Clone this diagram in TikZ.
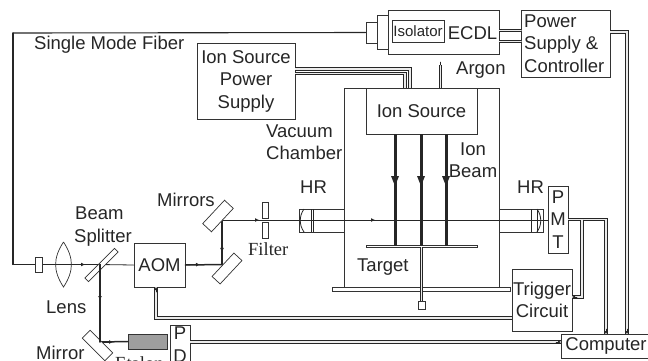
\documentclass[tikz,border=0pt]{standalone}
\RequirePackage{fontspec}
\RequirePackage{tikz}
\RequirePackage{tkz-euclide}
\usetikzlibrary{arrows.meta}
\usetikzlibrary{calc}
\setmainfont{Liberation Sans}
\newfontfamily\serifface{Liberation Serif}

\tikzset{
    txt/.style={inner sep=0pt,text=black!85,font=\fontsize{18.5}{22.5}\selectfont},
    lbl/.style={txt,align=left,anchor=west},
    bbox/.style={txt,draw=black!80,line width=0.8pt,fill=white,align=center,inner sep=0pt},
    optic/.style={draw=black!80,line width=0.7pt,fill=white,inner sep=0pt},
    beam/.style={draw=black!85,line width=0.8pt},
    fiberline/.style={draw=black!85,line width=1.1pt},
    beamthick/.style={draw=black!85,line width=1.5pt},
    ionbeam/.style={draw=black!85,line width=3pt},
    tip/.style={-{Latex[length=4pt,width=4pt]}},
    tipsmall/.style={draw=black!85,line width=0.5pt,-{Latex[length=3pt,width=3.5pt]}},
    wire/.style={preaction={draw=black!85,line width=3.4pt},draw=black!8,line width=1.5pt},
}

\begin{document}
\begin{tikzpicture}[x=1pt,y=-1pt]
                \clip (0,0) rectangle (648,360);

                \tkzDefPoint(13,33){F1}
                \tkzDefPoint(13,264.5){F2}
                \tkzDefPoint(85,264.5){B1}
                \tkzDefPoint(100,264.5){BS}
                \tkzDefPoint(200,264.5){B2}
                \tkzDefPoint(222,264.5){M1}
                \tkzDefPoint(222,245){B3}
                \tkzDefPoint(222,220){M2}
                \tkzDefPoint(259,220){B4}
                \tkzDefPoint(375,220){B5}
                \tkzDefPoint(100,300){B6}
                \tkzDefPoint(100,342){M3}
                \tkzDefPoint(113,342){B7}
                \tkzDefPoint(38.5,264.5){C1}

                \node[bbox,minimum width=89pt,minimum height=67pt] (psu) at (565.5,43.5) {};
                \node[bbox,minimum width=98pt,minimum height=76pt] (isp) at (246,81) {Ion Source\\Power\\Supply};
                \node[optic,minimum width=155pt,minimum height=199pt] (chamber) at (421.5,187.5) {};
                \node[optic,minimum width=178pt,minimum height=4pt] (base) at (421,289) {};
                \node[bbox,minimum width=111pt,minimum height=46pt] (source) at (421.5,111) {Ion Source};
                \node[optic,minimum width=111pt,minimum height=2pt] (target) at (421.5,246) {};
                \node[optic,minimum width=7pt,minimum height=8pt] (pin) at (421.5,305) {};

                \node[optic,minimum width=11pt,minimum height=34pt] (collar) at (382.5,32) {};
                \node[optic,minimum width=11pt,minimum height=21pt] (plug) at (371.5,32.5) {};
                \node[bbox,minimum width=111pt,minimum height=44pt] (ecdl) at (443.5,32) {};
                \node[optic,minimum width=52pt,minimum height=22pt] (isolator) at (418,31) {};
                \node[txt,font=\fontsize{15}{18}\selectfont] (isolatortxt) at (418,31) {Isolator};
                \node[txt] (ecdltxt) at (472.5,33) {ECDL};

                \node[optic,minimum width=45pt,minimum height=23pt] (hrl) at (321.5,220.5) {};
                \node[optic,minimum width=44pt,minimum height=23pt] (hrr) at (521,220.5) {};

                \node[bbox,minimum width=51pt,minimum height=44pt] (aom) at (159.5,265) {AOM};
                \node[bbox,minimum width=20pt,minimum height=67pt] (pmt) at (558,219.5) {P\\M\\T};
                \node[bbox,minimum width=60pt,minimum height=62pt] (trigger) at (542,300) {Trigger\\Circuit};
                \node[bbox,minimum width=90pt,minimum height=24pt] (computer) at (606,346) {Computer};
                \node[bbox,minimum width=20pt,minimum height=38pt,anchor=north] (pd) at (180,325) {P\\D};
                \node[optic,fill=black!38,minimum width=39pt,minimum height=15pt] (etalon) at (147.5,341.5) {};

                \tkzDrawSegment[fiberline](plug.west,F1)
                \tkzDrawSegment[fiberline](F1,F2)
                \tkzDrawSegment[fiberline](F2,C1)
                \tkzDrawSegment[beam](C1,BS)
                \tkzDrawSegment[beam,tip](C1,B1)
                \tkzDrawSegment[beam](BS,aom.west)
                \tkzDrawSegment[beamthick](aom.east,M1)
                \tkzDrawSegment[beam,tip](aom.east,B2)
                \tkzDrawSegment[beamthick](M1,M2)
                \tkzDrawSegment[beam,tip](M1,B3)
                \tkzDrawSegment[beam](M2,pmt.west |- M2)
                \tkzDrawSegment[beam,tip](M2,B4)
                \tkzDrawSegment[beam,tip](M2,B5)
                \tkzDrawSegment[beamthick](M3,etalon.west)
                \tkzDrawSegment[beam,tip](M3,B7)

                \node[optic,minimum width=7pt,minimum height=15pt] (coupler) at (38.5,264.5) {};
                \node[optic,rotate=45,minimum width=42pt,minimum height=5pt] (splitter) at (101.5,265) {};
                \node[optic,rotate=47,minimum width=32pt,minimum height=11pt] (mirrora) at (227,268.5) {};
                \node[optic,rotate=47,minimum width=32pt,minimum height=12pt] (mirrorb) at (218,216) {};
                \node[optic,rotate=-45,minimum width=32pt,minimum height=11pt] (mirrorc) at (97.5,345.5) {};
                \node[optic,minimum width=6pt,minimum height=16pt] (filtera) at (265,210) {};
                \node[optic,minimum width=6pt,minimum height=16pt] (filterb) at (265,230) {};

                \coordinate (lensa) at (63.5,242);
                \coordinate (lensb) at (63.5,287);
                \draw[optic,fill=none] (lensa) .. controls (53,258) and (53,271) .. (lensb)
                    .. controls (74,271) and (74,258) .. (lensa);
                \tkzDrawSegment[beamthick](BS,M3)
                \tkzDrawSegment[beam,tip](BS,B6)

                \draw[ionbeam] (395,134) -- (395,246);
                \draw[ionbeam] (421,134) -- (421,246);
                \draw[ionbeam] (446,134) -- (446,246);
                \foreach \bx in {395,421,446} {
                    \fill[black!85] (\bx-4,176) -- (\bx+4,176) -- (\bx,186) -- cycle;
                }
                \draw[beam] (311,209) -- (311,232);
                \draw[beam] (313,209) -- (313,232);
                \draw[beam] (304,209) .. controls (299,216) and (299,225) .. (304,232);
                \draw[beam] (531,209) -- (531,232);
                \draw[beam] (537,209) -- (537,232);
                \draw[beam] (537,209) .. controls (542,216) and (542,225) .. (537,232);

                \draw[wire] (target.south) -- (pin.north);

                \tkzDefPoint(499,30.5){Ea}
                \tkzDefPoint(521,30.5){Eb}
                \tkzDefPoint(499,41.5){Ec}
                \tkzDefPoint(521,41.5){Ed}
                \tkzDrawSegment[wire](Ea,Eb)
                \tkzDrawSegment[wire](Ec,Ed)

                \tkzDefPoint(295,69){Sa}
                \tkzDefPoint(410,88){Sb}
                \tkzDefPoint(295,73.5){Sc}
                \tkzDefPoint(405,88){Sd}
                \draw[wire] (Sa) -| (Sb);
                \draw[wire] (Sc) -| (Sd);

                \tkzDefPoint(440.5,88){Ga}
                \tkzDefPoint(440.5,65){Gb}
                \tkzDefPoint(440.5,62){Gc}
                \draw[wire] (Ga) -- (Gb);
                \tkzDrawSegment[draw=black!85,line width=0.5pt](Gb,Gc)

                \tkzDefPoint(610,32){Pa}
                \tkzDefPoint(627,334){Pb}
                \tkzDefPoint(627,329){Pc}
                \draw[wire] (Pa) -| (Pb);
                \tkzDrawSegment[tipsmall](Pc,Pb)

                \tkzDefPoint(606,334){Ca}
                \tkzDefPoint(606,329){Cb}
                \draw[wire] (pmt.east) -| (Ca);
                \tkzDrawSegment[tipsmall](Cb,Ca)

                \tkzDefPoint(582,219.5){Ta}
                \tkzDefPoint(577,297){Tb}
                \tkzDefPoint(572,297){Tc}
                \draw[wire] (Ta) |- (Tc);
                \tkzDrawSegment[tipsmall](Tb,Tc)

                \tkzDefPoint(156,287){Aa}
                \tkzDefPoint(156,292){Ac}
                \tkzDefPoint(512,318){Ab}
                \draw[wire] (Aa) |- (Ab);
                \tkzDrawSegment[tipsmall](Ac,Aa)

                \tkzDefPoint(190,342){Da}
                \tkzDefPoint(561,342){Db}
                \tkzDefPoint(556,342){Dc}
                \draw[wire] (Da) -- (Db);
                \tkzDrawSegment[tipsmall](Dc,Db)

                \node[lbl] (power) at (524,43.5) {Power\\Supply \&\\Controller};
                \node[lbl] (fiber) at (34,44.5) {Single Mode Fiber};
                \node[lbl] (argon) at (456,70) {Argon};
                \node[lbl] (vacuum) at (266,142) {Vacuum\\Chamber};
                \node[txt,align=center] (ion) at (473,160) {Ion\\Beam};
                \node[lbl] (hra) at (300,187) {HR};
                \node[lbl] (hrbb) at (517,187) {HR};
                \node[lbl] (targettxt) at (357,267) {Target};
                \node[lbl] (mirrors) at (157,200) {Mirrors};
                \node[lbl] (beamtxt) at (74,226.5) {\hspace*{1pt}Beam\\Splitter};
                \node[lbl] (lens) at (46,307) {Lens};
                \node[lbl] (mirror) at (36,352.5) {Mirror};
                \node[lbl,font=\fontsize{18.5}{22.5}\serifface] (filtertxt) at (248,249.5) {Filter};
                \node[lbl,font=\fontsize{18.5}{22.5}\serifface] (etalontxt) at (115,363) {Etalon};
            \end{tikzpicture}
\end{document}
